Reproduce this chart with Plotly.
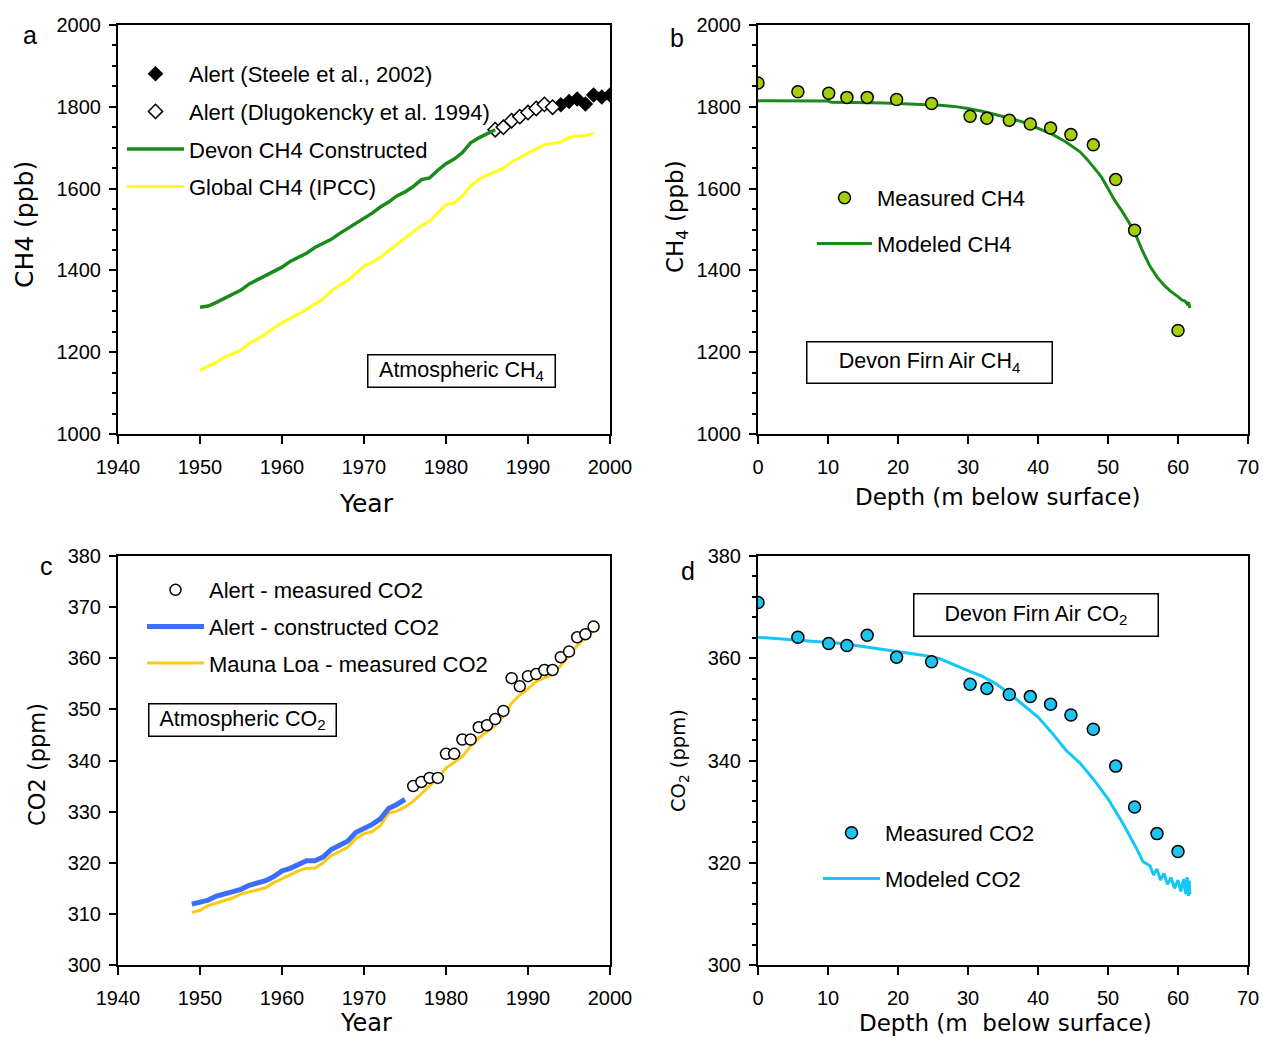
import plotly.graph_objects as go

W, H = 1263, 1038

# ---- panel a: atmospheric CH4 ----
devon_ch4_years = list(range(1950, 1987))
devon_ch4 = [1310, 1313, 1322, 1332, 1342, 1352, 1367, 1377, 1387, 1397,
             1408, 1422, 1432, 1442, 1456, 1466, 1476, 1490, 1502, 1516,
             1528, 1540, 1555, 1567, 1582, 1592, 1605, 1622, 1626, 1645,
             1661, 1672, 1688, 1712, 1724, 1734, 1744]
global_ch4_years = list(range(1950, 1999))
global_ch4 = [1156, 1165, 1175, 1188, 1196, 1205, 1222, 1232, 1245, 1258,
              1272, 1282, 1293, 1305, 1318, 1330, 1350, 1362, 1375, 1393,
              1411, 1420, 1432, 1448, 1464, 1480, 1496, 1510, 1520, 1540,
              1561, 1565, 1582, 1607, 1622, 1633, 1642, 1650, 1665, 1675,
              1685, 1697, 1708, 1710, 1714, 1725, 1729, 1730, 1735]
dlugo_years = [1986, 1987, 1988, 1989, 1990, 1991, 1992, 1993]
dlugo_ch4 = [1744, 1750, 1766, 1776, 1786, 1796, 1806, 1799]
steele_years = [1994, 1995, 1996, 1997, 1998, 1999, 2000]
steele_ch4 = [1805, 1813, 1819, 1807, 1829, 1824, 1829]

# ---- panel b: Devon firn air CH4 ----
firn_depth = [0, 5.7, 10.1, 12.7, 15.6, 19.8, 24.8, 30.3, 32.7, 35.9,
              38.9, 41.8, 44.7, 47.9, 51.1, 53.8, 60.0]
firn_ch4 = [1858, 1837, 1833, 1823, 1823, 1818, 1808, 1777, 1772, 1767,
            1758, 1748, 1732, 1707, 1622, 1498, 1253]
model_ch4_depth = [0, 2, 4, 6, 8, 10, 10.5, 12, 14, 16, 18, 20, 22, 24, 26,
                   28, 30, 32, 34, 36, 38, 40, 42, 44, 45, 46, 47, 48, 49,
                   50, 51, 52, 53, 54, 55, 56, 57, 58, 59, 60, 60.6, 61,
                   61.3, 61.5, 61.7]
model_ch4 = [1815, 1815, 1815, 1815, 1815, 1814, 1811, 1811, 1810, 1810,
             1809, 1808, 1807, 1806, 1804, 1801, 1796, 1789, 1781, 1772,
             1762, 1748, 1733, 1714, 1703, 1690, 1672, 1652, 1630, 1600,
             1570, 1545, 1517, 1485, 1445, 1410, 1384, 1364, 1348, 1336,
             1327, 1325, 1318, 1322, 1308]

# ---- panel c: atmospheric CO2 ----
alert_con_years = list(range(1949, 1976))
alert_con_co2 = [311.9, 312.2, 312.7, 313.5, 314.0, 314.3, 314.8, 315.6,
                 316.0, 316.5, 317.3, 318.4, 318.9, 319.6, 320.4, 320.4,
                 321.1, 322.6, 323.4, 324.2, 325.9, 326.7, 327.5, 328.6,
                 330.6, 331.4, 332.4]
mlo_years = list(range(1949, 1999))
mlo_co2 = [310.3, 310.7, 311.6, 312.1, 312.6, 313.1, 313.9, 314.3, 314.7,
           315.1, 316.1, 316.9, 317.6, 318.4, 318.9, 318.9, 320.0, 321.4,
           322.2, 323.0, 324.7, 325.7, 326.1, 327.3, 329.7, 330.1, 330.9,
           332.0, 333.5, 335.1, 336.6, 338.5, 339.7, 340.8, 342.8, 344.4,
           345.6, 346.8, 348.7, 351.2, 352.8, 354.0, 355.5, 356.2, 356.8,
           358.6, 360.6, 362.5, 364.0, 365.3]
alert_meas_years = list(range(1976, 1999))
alert_meas_co2 = [335.0, 335.8, 336.6, 336.6, 341.3, 341.3, 344.1, 344.1,
                  346.5, 346.9, 348.1, 349.7, 356.1, 354.5, 356.5, 356.9,
                  357.7, 357.7, 360.2, 361.3, 364.1, 364.7, 366.2]

# ---- panel d: Devon firn air CO2 ----
firn_co2_depth = [0, 5.7, 10.1, 12.7, 15.6, 19.8, 24.8, 30.3, 32.7, 35.9,
                  38.9, 41.8, 44.7, 47.9, 51.1, 53.8, 57.0, 60.0]
firn_co2 = [370.9, 364.1, 362.9, 362.5, 364.5, 360.2, 359.3, 354.9, 354.1,
            352.9, 352.5, 351.0, 348.9, 346.1, 338.9, 330.9, 325.7, 322.2]
model_co2_depth = [0, 2, 4, 6, 8, 10, 12, 14, 16, 18, 20, 22, 24, 26, 28,
                   30, 32, 34, 36, 38, 40, 42, 44, 46, 48, 50, 52, 54, 55,
                   56, 56.5, 57, 57.5, 58, 58.5, 59, 59.5, 60, 60.4, 60.8,
                   61.1, 61.3, 61.5, 61.6, 61.7]
model_co2 = [364.1, 363.9, 363.7, 363.5, 363.4, 363.2, 362.9, 362.5, 362.1,
             361.7, 361.3, 360.9, 360.5, 359.9, 358.7, 357.6, 356.5, 355.0,
             353.0, 350.8, 348.5, 345.4, 342.0, 339.5, 336.2, 332.5, 328.0,
             323.0, 320.2, 319.4, 317.6, 318.8, 316.6, 317.9, 315.8, 317.1,
             315.0, 316.6, 314.4, 316.8, 313.9, 317.2, 313.5, 316.5, 313.8]


def px_x(x):
    return x / W


def px_y(y):
    return 1 - y / H


fig = go.Figure()

# panel a
fig.add_trace(go.Scatter(x=steele_years, y=steele_ch4, mode="markers",
                         name="Alert (Steele et al., 2002)",
                         marker=dict(symbol="diamond", size=12, color="black"),
                         xaxis="x", yaxis="y", legend="legend", legendgroup="a1",
                         legendrank=1))
fig.add_trace(go.Scatter(x=dlugo_years, y=dlugo_ch4, mode="markers",
                         name="Alert (Dlugokencky et al. 1994)",
                         marker=dict(symbol="diamond", size=11, color="white",
                                     line=dict(color="black", width=1.5)),
                         xaxis="x", yaxis="y", legend="legend", legendgroup="a2",
                         legendrank=2))
fig.add_trace(go.Scatter(x=devon_ch4_years, y=devon_ch4, mode="lines",
                         name="Devon CH4 Constructed",
                         line=dict(color="#1a8a1a", width=3.5),
                         xaxis="x", yaxis="y", legend="legend", legendgroup="a3",
                         legendrank=3))
fig.add_trace(go.Scatter(x=global_ch4_years, y=global_ch4, mode="lines",
                         name="Global CH4 (IPCC)",
                         line=dict(color="#ffff1a", width=3),
                         xaxis="x", yaxis="y", legend="legend", legendgroup="a4",
                         legendrank=4))

# panel b
fig.add_trace(go.Scatter(x=model_ch4_depth, y=model_ch4, mode="lines",
                         name="Modeled CH4",
                         line=dict(color="#1a8a1a", width=3),
                         xaxis="x2", yaxis="y2", legend="legend2", legendgroup="b2",
                         legendrank=2))
fig.add_trace(go.Scatter(x=firn_depth, y=firn_ch4, mode="markers",
                         name="Measured CH4",
                         marker=dict(size=12, color="#a3cf0c",
                                     line=dict(color="black", width=1.5)),
                         xaxis="x2", yaxis="y2", legend="legend2", legendgroup="b1",
                         legendrank=1))

# panel c
fig.add_trace(go.Scatter(x=mlo_years, y=mlo_co2, mode="lines",
                         name="Mauna Loa - measured CO2",
                         line=dict(color="#ffc814", width=3),
                         xaxis="x3", yaxis="y3", legend="legend3", legendgroup="c3",
                         legendrank=3))
fig.add_trace(go.Scatter(x=alert_con_years, y=alert_con_co2, mode="lines",
                         name="Alert - constructed CO2",
                         line=dict(color="#3d6ef7", width=5),
                         xaxis="x3", yaxis="y3", legend="legend3", legendgroup="c2",
                         legendrank=2))
fig.add_trace(go.Scatter(x=alert_meas_years, y=alert_meas_co2, mode="markers",
                         name="Alert - measured CO2",
                         marker=dict(size=11, color="white",
                                     line=dict(color="black", width=1.5)),
                         xaxis="x3", yaxis="y3", legend="legend3", legendgroup="c1",
                         legendrank=1))

# panel d
fig.add_trace(go.Scatter(x=model_co2_depth, y=model_co2, mode="lines",
                         name="Modeled CO2",
                         line=dict(color="#14c8f5", width=3),
                         xaxis="x4", yaxis="y4", legend="legend4", legendgroup="d2",
                         legendrank=2))
fig.add_trace(go.Scatter(x=firn_co2_depth, y=firn_co2, mode="markers",
                         name="Measured CO2",
                         marker=dict(size=12, color="#1ec3f0",
                                     line=dict(color="black", width=1.5)),
                         xaxis="x4", yaxis="y4", legend="legend4", legendgroup="d1",
                         legendrank=1))

tick_font = dict(family="Liberation Sans, Arial", size=20, color="black")


def xax(domain, rng, anchor):
    return dict(domain=domain, range=rng, dtick=10, ticks="outside", ticklen=8,
                tickwidth=1.5, tickcolor="black", showline=True, linecolor="black",
                linewidth=2, mirror=True, showgrid=False, zeroline=False,
                tickfont=tick_font, anchor=anchor, ticklabelstandoff=6,
                automargin=False)


def yax(domain, rng, dtick, minor, anchor):
    return dict(domain=domain, range=rng, dtick=dtick, ticks="outside", ticklen=7,
                tickwidth=1.5, tickcolor="black", showline=True, linecolor="black",
                linewidth=2, mirror=True, showgrid=False, zeroline=False,
                tickfont=tick_font, anchor=anchor, ticklabelstandoff=4,
                automargin=False,
                minor=dict(dtick=minor, ticks="outside", ticklen=4, tickwidth=1.5,
                           tickcolor="black", showgrid=False) if minor else None)


xl = [px_x(118), px_x(610)]
xr = [px_x(758), px_x(1248)]
yt = [px_y(434), px_y(25)]
yb = [px_y(965), px_y(556)]

leg_font = dict(family="Liberation Sans, Arial", size=22, color="black")


def leg(x, y, gap, width):
    return dict(x=px_x(x), y=px_y(y), xanchor="left", yanchor="top",
                bgcolor="rgba(0,0,0,0)", font=leg_font, itemwidth=width,
                tracegroupgap=gap, traceorder="grouped")


def tfont(size):
    return dict(family="DejaVu Sans", size=size, color="black")


box_font = dict(family="Liberation Sans, Arial", size=21.5, color="black")
letter_font = dict(family="Liberation Sans, Arial", size=25, color="black")


def ann(text, x, y, font, angle=0):
    return dict(text=text, x=px_x(x), y=px_y(y), xref="paper", yref="paper",
                showarrow=False, font=font, textangle=angle,
                xanchor="center", yanchor="middle")


def box(text, x0, x1, y0, y1):
    return dict(text=text, x=px_x((x0 + x1) / 2), y=px_y((y0 + y1) / 2),
                xref="paper", yref="paper", showarrow=False, font=box_font,
                xanchor="center", yanchor="middle", bordercolor="black",
                borderwidth=1.5, borderpad=0, width=x1 - x0 - 3,
                height=y1 - y0 - 3, bgcolor="white")


annotations = [
    ann("a", 30, 35, letter_font),
    ann("b", 677, 38, letter_font),
    ann("c", 47, 566, letter_font),
    ann("d", 688, 571, letter_font),
    ann("CH4 (ppb)", 25, 225, tfont(25), -90),
    ann("Year", 366, 503, tfont(25)),
    ann("CH<sub>4</sub> (ppb)", 677, 217, tfont(23), -90),
    ann("Depth (m below surface)", 997, 497, tfont(23)),
    ann("CO2 (ppm)", 37, 765, tfont(22.5), -90),
    ann("Year", 366, 1023, tfont(24)),
    ann("CO<sub>2</sub> (ppm)", 679, 761, tfont(19.5), -90),
    ann("Depth (m  below surface)", 1005, 1023, tfont(23)),
    box("Atmospheric CH<sub>4</sub>", 367, 556, 354, 388),
    box("Devon Firn Air CH<sub>4</sub>", 806, 1053, 341, 384),
    box("Atmospheric CO<sub>2</sub>", 148, 337, 703, 737),
    box("Devon Firn Air CO<sub>2</sub>", 913, 1159, 593, 637),
]

fig.update_layout(
    width=W, height=H,
    margin=dict(l=0, r=0, t=0, b=0, autoexpand=False),
    paper_bgcolor="white", plot_bgcolor="white",
    xaxis=xax(xl, [1940, 2000], "y"),
    yaxis=yax(yt, [1000, 2000], 200, 50, "x"),
    xaxis2=xax(xr, [0, 70], "y2"),
    yaxis2=yax(yt, [1000, 2000], 200, 50, "x2"),
    xaxis3=xax(xl, [1940, 2000], "y3"),
    yaxis3=yax(yb, [300, 380], 10, None, "x3"),
    xaxis4=xax(xr, [0, 70], "y4"),
    yaxis4=yax(yb, [300, 380], 20, 4, "x4"),
    legend=leg(122, 53, 6, 57),
    legend2=leg(812, 177, 14, 55),
    legend3=leg(142, 569, 5, 57),
    legend4=leg(818, 812, 14, 57),
    annotations=annotations,
    showlegend=True,
)

# the page body has a default margin; drop it so the figure sits at the corner
fig.write_html("out.html", config={"displayModeBar": False},
               post_script="document.body.style.margin='0';")
